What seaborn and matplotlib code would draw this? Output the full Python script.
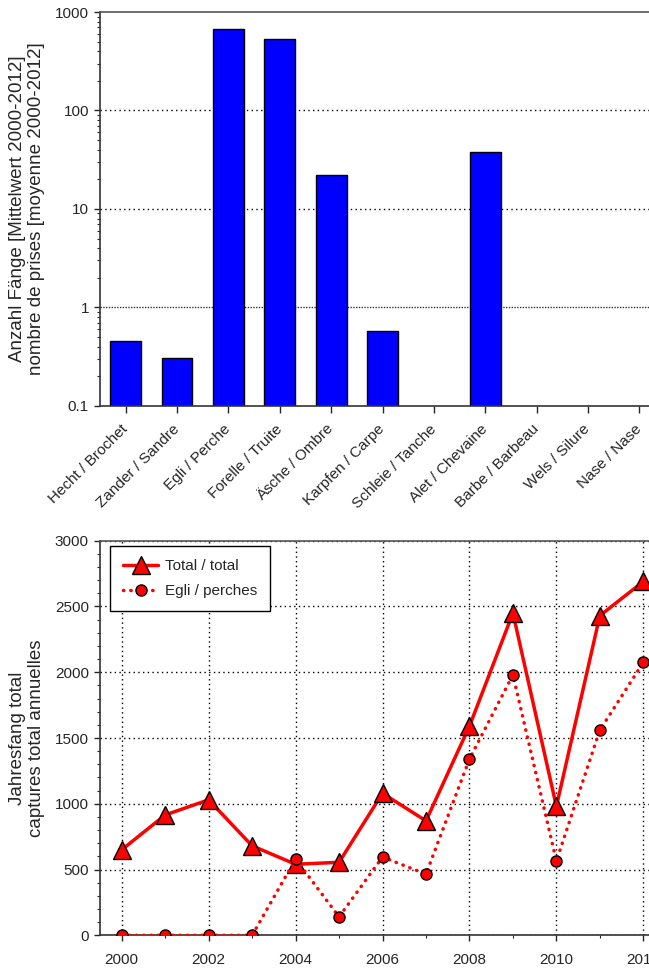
import numpy as np
import pandas as pd
import matplotlib
matplotlib.use("Agg")
import matplotlib.pyplot as plt
from matplotlib.ticker import FixedLocator, NullFormatter, MultipleLocator, LogLocator
from matplotlib.lines import Line2D
import seaborn as sns

# Mean annual catch per species, 2000-2012
species = ["Hecht / Brochet", "Zander / Sandre", "Egli / Perche", "Forelle / Truite",
           "Äsche / Ombre", "Karpfen / Carpe", "Schleie / Tanche", "Alet / Chevaine",
           "Barbe / Barbeau", "Wels / Silure", "Nase / Nase"]
mean_catch = [0.46, 0.31, 680, 530, 22, 0.58, np.nan, 38, np.nan, np.nan, np.nan]

# Yearly totals
years = [2000, 2001, 2002, 2003, 2004, 2005, 2006, 2007, 2008, 2009, 2010, 2011, 2012]
total_catch = [650, 915, 1030, 680, 540, 555, 1080, 870, 1590, 2450, 980, 2430, 2690]
perch_catch = [0, 0, 0, 0, 580, 140, 595, 465, 1340, 1980, 565, 1560, 2075]

y_ticks_top = [0.1, 1, 10, 100, 1000]
y_tick_labels_top = ["0.1", "1", "10", "100", "1000"]

sns.set_theme(style="ticks")
plt.rcParams["font.family"] = ["Liberation Sans", "DejaVu Sans"]
plt.rcParams["font.size"] = 11

TICK_FS = 11
LABEL_FS = 13.5
DOTTED = (0, (1, 2.4))

fig = plt.figure(figsize=(6.49, 9.68), dpi=100)
ax1 = fig.add_axes([0.1541, 0.5806, 0.8706, 0.4070])
ax2 = fig.add_axes([0.1541, 0.0338, 0.8706, 0.4076])

# ---- bar chart of species means (log scale) ----
df_bar = pd.DataFrame({"species": species, "mean": mean_catch})
ax1.set_yscale("log")
sns.barplot(data=df_bar, x="species", y="mean", order=species, color="#0000FF",
            saturation=1, width=0.6, edgecolor="black", linewidth=1.0, ax=ax1)
ax1.set_ylim(0.1, 1000)
ax1.set_xlim(-0.5, len(species) - 0.5)
ax1.yaxis.set_major_locator(FixedLocator(y_ticks_top))
ax1.set_yticklabels(y_tick_labels_top)
ax1.yaxis.set_minor_locator(LogLocator(base=10, subs=np.arange(2, 10)))
ax1.yaxis.set_minor_formatter(NullFormatter())
ax1.set_axisbelow(True)
for v in [10, 100]:
    ax1.axhline(v, color="black", linestyle=DOTTED, linewidth=1.0, zorder=0)
ax1.axhline(1, color="#333333", linestyle=(0, (1, 1)), linewidth=1.0, zorder=0)
ax1.set_xticks(range(len(species)))
ax1.set_xticklabels(species, rotation=45, ha="right", va="center",
                    rotation_mode="anchor", fontsize=TICK_FS)
ax1.set_xlabel("")
ax1.set_ylabel("Anzahl Fänge [Mittelwert 2000-2012]\nnombre de prises [moyenne 2000-2012]",
               fontsize=LABEL_FS)
ax1.yaxis.set_label_coords(-0.097, 0.5)
ax1.tick_params(axis="y", which="major", direction="out", length=4, width=1,
                labelsize=TICK_FS, pad=4)
ax1.tick_params(axis="y", which="minor", direction="out", length=2.2, width=0.8)
ax1.tick_params(axis="x", which="major", direction="out", length=5, width=1, pad=10)

# ---- yearly totals ----
df_line = pd.DataFrame({"year": years, "total": total_catch, "perch": perch_catch})
sns.lineplot(data=df_line, x="year", y="total", color="red", linewidth=2.5,
             marker="^", markersize=13, markerfacecolor="red", markeredgecolor="black",
             markeredgewidth=1.0, ax=ax2, zorder=3)
sns.lineplot(data=df_line, x="year", y="perch", color="red", linewidth=2.5,
             linestyle=(0, (0.1, 2.0)), dash_capstyle="round",
             marker="o", markersize=8, markerfacecolor="red", markeredgecolor="black",
             markeredgewidth=1.0, ax=ax2, zorder=4)
ax2.set_xlim(1999.5, 2012.5)
ax2.set_ylim(0, 3000)
ax2.xaxis.set_major_locator(MultipleLocator(2))
ax2.xaxis.set_minor_locator(MultipleLocator(1))
ax2.yaxis.set_major_locator(MultipleLocator(500))
ax2.yaxis.set_minor_locator(MultipleLocator(100))
ax2.grid(True, which="major", color="black", linestyle=DOTTED, linewidth=1.0)
ax2.set_axisbelow(True)
ax2.set_xlabel("")
ax2.set_ylabel("Jahresfang total\ncaptures total annuelles", fontsize=LABEL_FS)
ax2.yaxis.set_label_coords(-0.097, 0.5)
ax2.tick_params(axis="both", which="major", direction="out", length=4, width=1,
                labelsize=TICK_FS, pad=4)
ax2.tick_params(axis="x", which="major", pad=9)
ax2.tick_params(axis="both", which="minor", direction="out", length=2.2, width=0.8)

handles = [
    Line2D([], [], color="red", linewidth=2.5, marker="^", markersize=13,
           markerfacecolor="red", markeredgecolor="black", markeredgewidth=1.0),
    Line2D([], [], color="red", linewidth=2.5, linestyle=(0, (0.1, 2.0)),
           dash_capstyle="round", marker="o", markersize=8,
           markerfacecolor="red", markeredgecolor="black", markeredgewidth=1.0),
]
leg = ax2.legend(handles, ["Total / total", "Egli / perches"], loc="upper left",
                 bbox_to_anchor=(0.0177, 0.9866), borderaxespad=0, fancybox=False,
                 framealpha=1, edgecolor="black", fontsize=TICK_FS, handlelength=2.3,
                 handletextpad=0.45, borderpad=0.85, labelspacing=0.75)
leg.get_frame().set_linewidth(1.0)

for ax in (ax1, ax2):
    for side in ("left", "top", "right", "bottom"):
        ax.spines[side].set_visible(True)
        ax.spines[side].set_linewidth(1.2)
        ax.spines[side].set_color("#555555")
    ax.spines["left"].set_color("#333333")
    ax.spines["bottom"].set_color("#333333")

fig.savefig("out.png", dpi=100)
